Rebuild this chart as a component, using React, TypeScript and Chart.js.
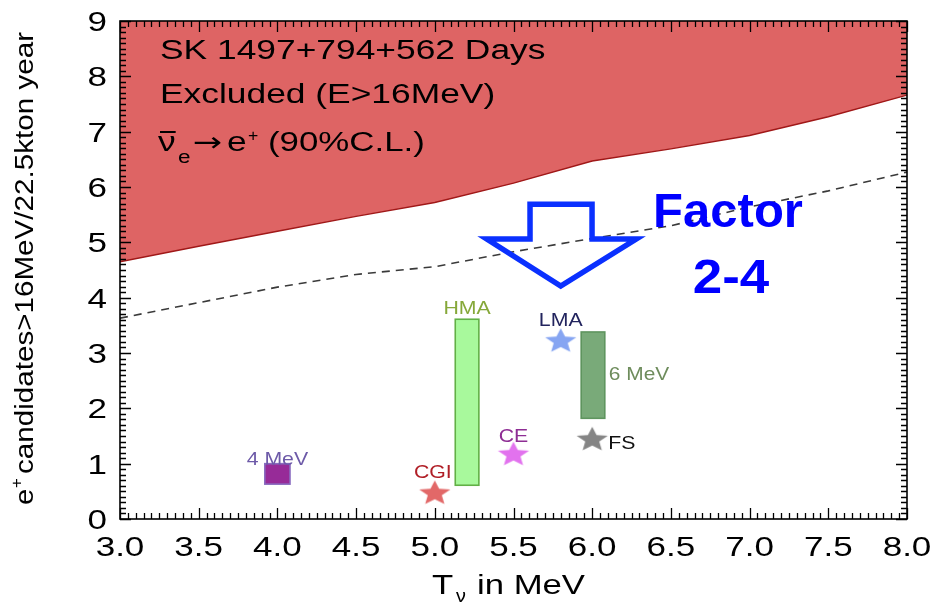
import React, { useEffect, useRef } from 'react';
import { Chart, registerables } from 'chart.js';

Chart.register(...registerables);

// ---------------- data ----------------
const energyGrid = [3.0, 3.5, 4.0, 4.5, 5.0, 5.5, 6.0, 6.5, 7.0, 7.5, 8.0];
const excludedLimit = [4.65, 4.93, 5.2, 5.47, 5.72, 6.07, 6.47, 6.69, 6.93, 7.27, 7.66];
const futureLimit = [3.63, 3.91, 4.19, 4.42, 4.56, 4.83, 5.07, 5.3, 5.64, 5.93, 6.27];

const modelNames = ['CGI', 'CE', 'LMA', 'FS'];
const modelT = [5.0, 5.5, 5.8, 6.0];
const modelRate = [0.48, 1.18, 3.23, 1.45];

const rangeNames = ['4 MeV', 'HMA', '6 MeV'];
const rangeTLow = [3.92, 5.13, 5.93];
const rangeTHigh = [4.08, 5.28, 6.08];
const rangeRateLow = [0.63, 0.61, 1.82];
const rangeRateHigh = [1.0, 3.61, 3.38];

const xTickValues = [3.0, 3.5, 4.0, 4.5, 5.0, 5.5, 6.0, 6.5, 7.0, 7.5, 8.0];
const xTickLabels = ['3.0', '3.5', '4.0', '4.5', '5.0', '5.5', '6.0', '6.5', '7.0', '7.5', '8.0'];
const yTickValues = [0, 1, 2, 3, 4, 5, 6, 7, 8, 9];
const yTickLabels = ['0', '1', '2', '3', '4', '5', '6', '7', '8', '9'];

// arrow annotation (data coordinates)
const arrowShaftT = [5.605, 5.999];
const arrowHeadT = [5.33, 6.28];
const arrowTipT = 5.8;
const arrowLevels = [5.69, 5.06, 4.21]; // shaft top, shoulder, tip

// ---------------- styles ----------------
const FONT = '"Liberation Sans", Arial, Helvetica, sans-serif';
const starColors = ['#e26868', '#e272ee', '#86a5f2', '#858585'];
const modelLabelColors = ['#b01e26', '#8e2d94', '#22245e', '#111111'];
const rangeFill = ['#972b98', '#a8f99c', '#79aa79'];
const rangeStroke = ['#8a6cc0', '#62b046', '#5f955f'];
const rangeLabelColors = ['#6d5aa8', '#86a83a', '#6e8c5c'];

function stretchText(
  ctx: CanvasRenderingContext2D,
  text: string,
  x: number,
  y: number,
  font: string,
  color: string,
  sx: number,
  align: 'left' | 'center' | 'right' = 'left'
) {
  ctx.save();
  ctx.font = font;
  ctx.fillStyle = color;
  ctx.textBaseline = 'alphabetic';
  ctx.textAlign = 'left';
  const w = ctx.measureText(text).width * sx;
  const left = align === 'left' ? x : align === 'center' ? x - w / 2 : x - w;
  ctx.translate(left, y);
  ctx.scale(sx, 1);
  ctx.fillText(text, 0, 0);
  ctx.restore();
  return w;
}

function makeStar(color: string) {
  const R = 13;
  const sx = 1.26;
  const w = Math.ceil(2 * R * Math.sin((72 * Math.PI) / 180) * sx) + 2;
  const h = Math.ceil(R * (1 + Math.cos(Math.PI / 5))) + 2;
  const c = document.createElement('canvas');
  c.width = w;
  c.height = h;
  const g = c.getContext('2d')!;
  g.translate(w / 2, 1 + R);
  g.scale(sx, 1);
  g.beginPath();
  for (let k = 0; k < 10; k++) {
    const r = k % 2 === 0 ? R : R * 0.45;
    const a = -Math.PI / 2 + (k * Math.PI) / 5;
    const px = r * Math.cos(a);
    const py = r * Math.sin(a);
    if (k === 0) g.moveTo(px, py);
    else g.lineTo(px, py);
  }
  g.closePath();
  g.fillStyle = color;
  g.fill();
  return c;
}

const decorPlugin = {
  id: 'decor',
  afterDatasetsDraw(chart: any) {
    const ctx: CanvasRenderingContext2D = chart.ctx;
    const xs = chart.scales.x;
    const ys = chart.scales.y;

    // range boxes
    for (let i = 0; i < rangeNames.length; i++) {
      const x0 = xs.getPixelForValue(rangeTLow[i]);
      const x1 = xs.getPixelForValue(rangeTHigh[i]);
      const y0 = ys.getPixelForValue(rangeRateHigh[i]);
      const y1 = ys.getPixelForValue(rangeRateLow[i]);
      ctx.save();
      ctx.fillStyle = rangeFill[i];
      ctx.fillRect(x0, y0, x1 - x0, y1 - y0);
      ctx.strokeStyle = rangeStroke[i];
      ctx.lineWidth = 1.6;
      ctx.strokeRect(x0, y0, x1 - x0, y1 - y0);
      ctx.restore();
    }
    // range labels
    {
      const f = `19px ${FONT}`;
      const cx0 = (xs.getPixelForValue(rangeTLow[0]) + xs.getPixelForValue(rangeTHigh[0])) / 2;
      stretchText(ctx, rangeNames[0], cx0, ys.getPixelForValue(rangeRateHigh[0]) + 1, f, rangeLabelColors[0], 1.12, 'center');
      const cx1 = (xs.getPixelForValue(rangeTLow[1]) + xs.getPixelForValue(rangeTHigh[1])) / 2;
      stretchText(ctx, rangeNames[1], cx1, ys.getPixelForValue(rangeRateHigh[1]) - 5, f, rangeLabelColors[1], 1.12, 'center');
      const midY = (ys.getPixelForValue(rangeRateHigh[2]) + ys.getPixelForValue(rangeRateLow[2])) / 2;
      stretchText(ctx, rangeNames[2], xs.getPixelForValue(rangeTHigh[2]) + 4, midY + 5, f, rangeLabelColors[2], 1.1, 'left');
    }
    // model labels
    {
      const f = `19px ${FONT}`;
      const offs: [number, number, 'left' | 'center'][] = [
        [-2, -14, 'center'],
        [0, -12, 'center'],
        [0, -14, 'center'],
        [16, 10.5, 'left'],
      ];
      for (let i = 0; i < modelNames.length; i++) {
        const px = xs.getPixelForValue(modelT[i]);
        const py = ys.getPixelForValue(modelRate[i]);
        stretchText(ctx, modelNames[i], px + offs[i][0], py + offs[i][1], f, modelLabelColors[i], 1.12, offs[i][2]);
      }
    }

    // arrow
    {
      const sl = xs.getPixelForValue(arrowShaftT[0]);
      const sr = xs.getPixelForValue(arrowShaftT[1]);
      const hl = xs.getPixelForValue(arrowHeadT[0]);
      const hr = xs.getPixelForValue(arrowHeadT[1]);
      const tx = xs.getPixelForValue(arrowTipT);
      const yt = ys.getPixelForValue(arrowLevels[0]);
      const yshoulder = ys.getPixelForValue(arrowLevels[1]);
      const ytip = ys.getPixelForValue(arrowLevels[2]);
      ctx.save();
      ctx.beginPath();
      ctx.moveTo(sl, yt);
      ctx.lineTo(sr, yt);
      ctx.lineTo(sr, yshoulder);
      ctx.lineTo(hr, yshoulder);
      ctx.lineTo(tx, ytip);
      ctx.lineTo(hl, yshoulder);
      ctx.lineTo(sl, yshoulder);
      ctx.closePath();
      ctx.strokeStyle = '#0a30ff';
      ctx.lineWidth = 5.5;
      ctx.lineJoin = 'miter';
      ctx.stroke();
      ctx.restore();
    }
  },
  afterDraw(chart: any) {
    const ctx: CanvasRenderingContext2D = chart.ctx;
    const xs = chart.scales.x;
    const ys = chart.scales.y;
    const { left, right, top, bottom } = chart.chartArea;

    // ticks (inward, all four sides)
    ctx.save();
    ctx.strokeStyle = '#000000';
    ctx.lineWidth = 1.3;
    ctx.beginPath();
    for (let i = 0; i <= 100; i++) {
      const v = 3 + i * 0.05;
      const px = Math.round(xs.getPixelForValue(v)) + 0.5;
      const len = i % 10 === 0 ? 11 : 6;
      ctx.moveTo(px, bottom);
      ctx.lineTo(px, bottom - len);
      ctx.moveTo(px, top);
      ctx.lineTo(px, top + len);
    }
    for (let i = 0; i <= 90; i++) {
      const v = i * 0.1;
      const py = Math.round(ys.getPixelForValue(v)) + 0.5;
      const len = i % 10 === 0 ? 11 : 6;
      ctx.moveTo(left, py);
      ctx.lineTo(left + len, py);
      ctx.moveTo(right, py);
      ctx.lineTo(right - len, py);
    }
    ctx.stroke();
    ctx.lineWidth = 1.6;
    ctx.strokeRect(left, top, right - left, bottom - top);
    ctx.restore();

    // tick labels
    const tf = `28px ${FONT}`;
    for (let i = 0; i < xTickValues.length; i++) {
      stretchText(ctx, xTickLabels[i], xs.getPixelForValue(xTickValues[i]), bottom + 37, tf, '#000', 1.25, 'center');
    }
    for (let i = 0; i < yTickValues.length; i++) {
      stretchText(ctx, yTickLabels[i], left - 13, ys.getPixelForValue(yTickValues[i]) + 10, tf, '#000', 1.25, 'right');
    }

    // axis titles
    {
      const f = `28px ${FONT}`;
      const bl = bottom + 75;
      stretchText(ctx, 'T', 432, bl, f, '#000', 1.24, 'left');
      stretchText(ctx, 'ν', 456, bl + 8, `18px ${FONT}`, '#000', 1.1, 'left');
      ctx.save();
      ctx.font = f;
      const w = ctx.measureText('in MeV').width;
      ctx.restore();
      stretchText(ctx, 'in MeV', 477, bl, f, '#000', 108 / w, 'left');
    }
    {
      ctx.save();
      ctx.translate(33, 505);
      ctx.rotate(-Math.PI / 2);
      const f = `25px ${FONT}`;
      stretchText(ctx, 'e', 0, 0, f, '#000', 1.17, 'left');
      stretchText(ctx, '+', 17, -11, `17px ${FONT}`, '#000', 1.0, 'left');
      ctx.font = f;
      const main = 'candidates>16MeV/22.5kton year';
      const w = ctx.measureText(main).width;
      stretchText(ctx, main, 31, 0, f, '#000', (473 - 31) / w, 'left');
      ctx.restore();
    }

    // in-plot annotation text
    {
      const f = `27px ${FONT}`;
      const x0 = left + 40;
      stretchText(ctx, 'SK 1497+794+562 Days', x0, top + 38, f, '#000', 1.31, 'left');
      stretchText(ctx, 'Excluded (E>16MeV)', x0, top + 82, f, '#000', 1.31, 'left');
      const bl = top + 130;
      const wNu = stretchText(ctx, 'ν', x0 - 2, bl, f, '#000', 1.31, 'left');
      ctx.save();
      ctx.strokeStyle = '#000';
      ctx.lineWidth = 2;
      ctx.beginPath();
      ctx.moveTo(x0, bl - 19);
      ctx.lineTo(x0 - 2 + wNu, bl - 19);
      ctx.stroke();
      ctx.restore();
      stretchText(ctx, 'e', x0 + 18, bl + 12, `18px ${FONT}`, '#000', 1.25, 'left');
      stretchText(ctx, '→', x0 + 33, bl, `27px "DejaVu Sans", ${FONT}`, '#000', 1.3, 'left');
      stretchText(ctx, 'e', x0 + 67, bl, f, '#000', 1.31, 'left');
      stretchText(ctx, '+', x0 + 88, bl - 10, `16px ${FONT}`, '#000', 1.1, 'left');
      stretchText(ctx, '(90%C.L.)', x0 + 108, bl, f, '#000', 1.29, 'left');
    }

    // Factor 2-4
    {
      const f = `bold 49px ${FONT}`;
      stretchText(ctx, 'Factor', 728, top + 206, f, '#0000ff', 1.0, 'center');
      stretchText(ctx, '2-4', 731, top + 272, f, '#0000ff', 1.08, 'center');
    }
  },
};

export default function App() {
  const canvasRef = useRef<HTMLCanvasElement | null>(null);

  useEffect(() => {
    const canvas = canvasRef.current;
    if (!canvas) return;
    const stars = starColors.map((c) => makeStar(c));

    const chart = new Chart(canvas, {
      type: 'line',
      data: {
        datasets: [
          {
            label: 'models',
            data: modelT.map((t, i) => ({ x: t, y: modelRate[i] })),
            showLine: false,
            pointStyle: stars as any,
            pointRadius: 12,
            borderWidth: 0,
          } as any,
          {
            label: 'future',
            data: energyGrid.map((t, i) => ({ x: t, y: futureLimit[i] })),
            borderColor: '#3a3a3a',
            borderWidth: 1.6,
            borderDash: [8, 6],
            pointRadius: 0,
            fill: false,
            tension: 0,
          },
          {
            label: 'excluded',
            data: energyGrid.map((t, i) => ({ x: t, y: excludedLimit[i] })),
            borderColor: '#a01818',
            borderWidth: 1.4,
            backgroundColor: '#de6464',
            pointRadius: 0,
            fill: 'end',
            tension: 0,
          },
        ],
      },
      options: {
        responsive: false,
        animation: false,
        layout: { padding: { top: 21, right: 25, left: 0, bottom: 0 } },
        plugins: {
          legend: { display: false },
          tooltip: { enabled: false },
        },
        scales: {
          x: {
            type: 'linear',
            min: 3,
            max: 8,
            ticks: { display: false, stepSize: 0.5 },
            grid: { display: false, drawTicks: false },
            border: { display: false },
            afterFit: (s: any) => {
              s.height = 85;
            },
          },
          y: {
            type: 'linear',
            min: 0,
            max: 9,
            ticks: { display: false, stepSize: 1 },
            grid: { display: false, drawTicks: false },
            border: { display: false },
            afterFit: (s: any) => {
              s.width = 120;
            },
          },
        },
      },
      plugins: [decorPlugin],
    });

    return () => chart.destroy();
  }, []);

  return (
    <div style={{ position: 'absolute', left: 0, top: 0, width: 932, height: 604, background: '#fff' }}>
      <canvas ref={canvasRef} width={932} height={604} />
    </div>
  );
}
